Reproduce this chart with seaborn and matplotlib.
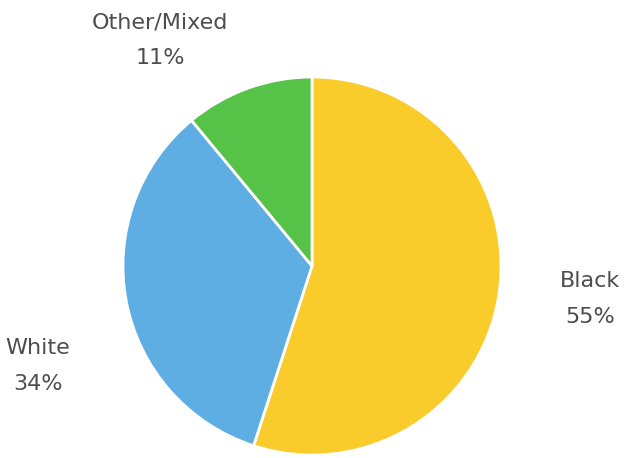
import matplotlib
matplotlib.use("Agg")
import matplotlib.pyplot as plt
import seaborn as sns

categories = ["Black", "White", "Other/Mixed"]
values = [55, 34, 11]
colors = ["#F9CC2C", "#5EAEE4", "#57C248"]

sns.set_theme(style="white")
plt.rcParams['font.family'] = ['DejaVu Sans']

fig = plt.figure(figsize=(6.28, 4.58), dpi=100)
ax = fig.add_axes([0, 0, 1, 1])

ax.pie(values, colors=colors, startangle=90, counterclock=False,
       center=(312, 458 - 266), radius=189,
       wedgeprops=dict(edgecolor="white", linewidth=2))
ax.set_aspect("equal")
ax.set_xlim(0, 628)
ax.set_ylim(0, 458)
ax.axis("off")

label_pos = {"Black": (590, 458 - 299), "White": (38, 458 - 366), "Other/Mixed": (160, 458 - 40)}
for c, v in zip(categories, values):
    x, y = label_pos[c]
    ax.text(x, y, f"{c}\n{v}%", ha="center", va="center", fontsize=16,
            color="#4d4d4d", linespacing=2.0)

fig.savefig("out.png", dpi=100, facecolor="white")
